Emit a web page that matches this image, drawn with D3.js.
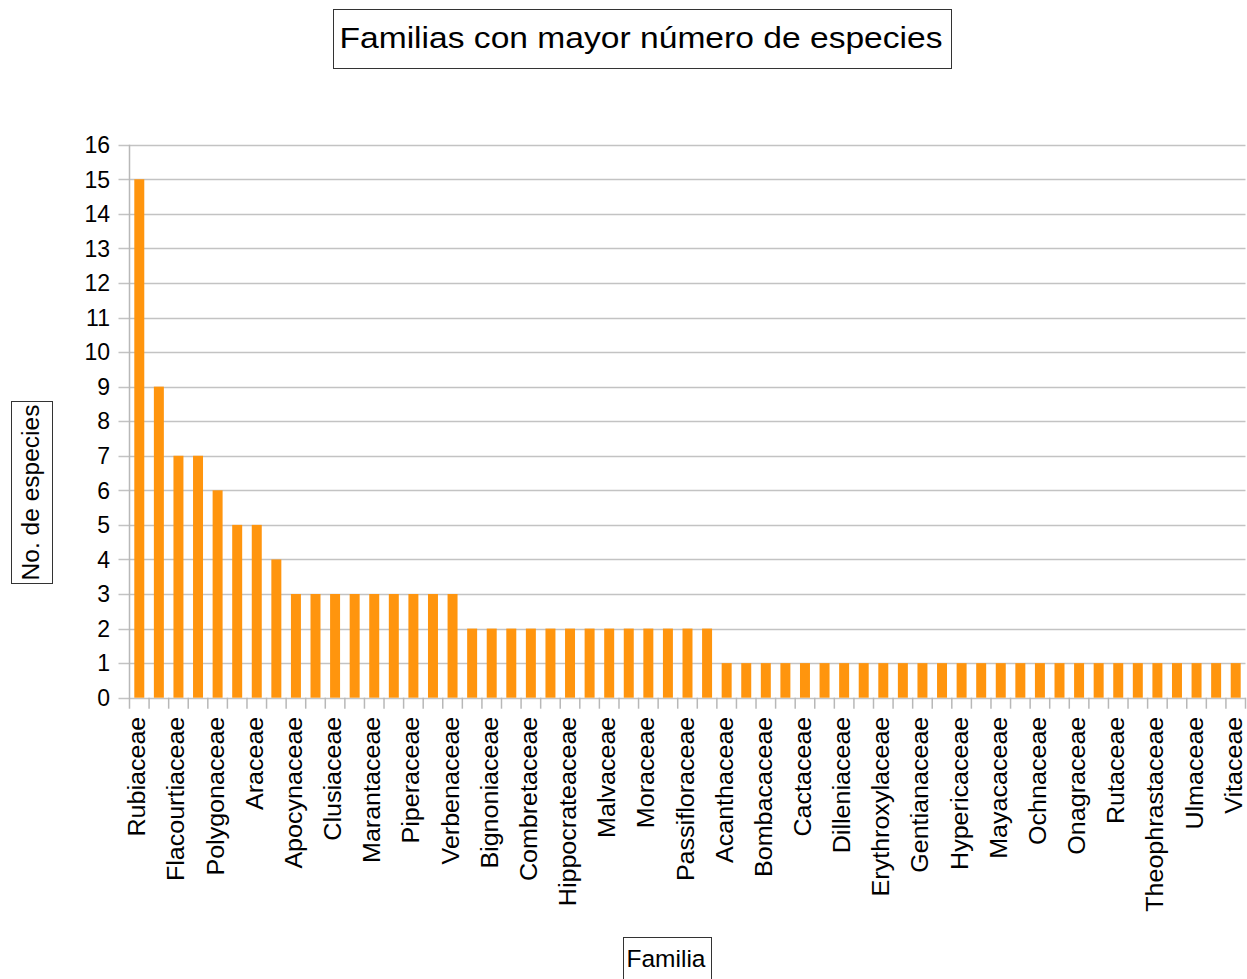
<!DOCTYPE html>
<html>
<head>
<meta charset="utf-8">
<script src="https://cdn.jsdelivr.net/npm/d3@7"></script>
<style>
  html, body { margin: 0; padding: 0; background: #fff; }
  svg { display: block; font-family: "Liberation Sans", Arial, sans-serif; }
</style>
</head>
<body>
<svg id="chart" width="1247" height="979"></svg>
<script>
// Families and their species counts
const families = [
  "Rubiaceae", "Fabaceae", "Flacourtiaceae", "Melastomataceae", "Polygonaceae", "Mimosaceae", "Araceae", "Caesalpiniaceae",
  "Apocynaceae", "Arecaceae", "Clusiaceae", "Lauraceae", "Marantaceae", "Myrtaceae", "Piperaceae", "Sapotaceae", "Verbenaceae",
  "Annonaceae", "Bignoniaceae", "Boraginaceae", "Combretaceae", "Cyperaceae", "Hippocrateaceae", "Lecythidaceae", "Malvaceae",
  "Meliaceae", "Moraceae", "Nyctaginaceae", "Passifloraceae", "Poaceae",
  "Acanthaceae", "Amaranthaceae", "Bombacaceae", "Burseraceae", "Cactaceae", "Chrysobalanaceae", "Dilleniaceae", "Ebenaceae",
  "Erythroxylaceae", "Euphorbiaceae", "Gentianaceae", "Heliconiaceae", "Hypericaceae", "Lamiaceae", "Mayacaceae", "Myrsinaceae",
  "Ochnaceae", "Olacaceae", "Onagraceae", "Polygalaceae", "Rutaceae", "Solanaceae", "Theophrastaceae", "Tiliaceae",
  "Ulmaceae", "Urticaceae", "Vitaceae"
];
const species = [
  15, 9, 7, 7, 6, 5, 5, 4,
  3, 3, 3, 3, 3, 3, 3, 3, 3,
  2, 2, 2, 2, 2, 2, 2, 2, 2, 2, 2, 2, 2,
  1, 1, 1, 1, 1, 1, 1, 1, 1, 1, 1, 1, 1, 1, 1, 1, 1, 1, 1, 1, 1, 1, 1, 1, 1, 1, 1
];
const yTicks = d3.range(0, 17);

const title = "Familias con mayor número de especies";
const yTitle = "No. de especies";
const xTitle = "Familia";

const svg = d3.select("#chart");
const plotLeft = 129.5, plotRight = 1245.5, plotTop = 144.7, plotBottom = 697.7;

const x = d3.scaleBand().domain(families).range([plotLeft, plotRight]).paddingInner(0).paddingOuter(0);
const y = d3.scaleLinear().domain([0, 16]).range([plotBottom, plotTop]);

// Horizontal gridlines, extending left past the axis as tick marks
svg.append("g").selectAll("line").data(yTicks).join("line")
  .attr("x1", plotLeft - 11).attr("x2", plotRight)
  .attr("y1", d => Math.round(y(d)) + 0.5).attr("y2", d => Math.round(y(d)) + 0.5)
  .attr("stroke", "#c3c3c3").attr("stroke-width", 1.3);

// Bars
const barW = x.bandwidth() * 0.51;
svg.append("g").selectAll("rect").data(families).join("rect")
  .attr("x", d => x(d) + (x.bandwidth() - barW) / 2)
  .attr("width", barW)
  .attr("y", (d, i) => y(species[i]))
  .attr("height", (d, i) => y(0) - y(species[i]))
  .attr("fill", "#ff950e");

// Y axis line
svg.append("line")
  .attr("x1", plotLeft).attr("x2", plotLeft)
  .attr("y1", plotTop).attr("y2", plotBottom + 11)
  .attr("stroke", "#b8b8b8").attr("stroke-width", 1.5);

// X tick marks at category boundaries
const boundaries = families.map(d => x(d)).concat([plotRight]);
svg.append("g").selectAll("line").data(boundaries.slice(1)).join("line")
  .attr("x1", d => d).attr("x2", d => d)
  .attr("y1", plotBottom).attr("y2", plotBottom + 11)
  .attr("stroke", "#b8b8b8").attr("stroke-width", 1.5);

// Y tick labels
svg.append("g").selectAll("text").data(yTicks).join("text")
  .attr("x", 110).attr("y", d => y(d))
  .attr("dy", "0.36em")
  .attr("text-anchor", "end")
  .attr("font-size", 23)
  .attr("fill", "#000")
  .text(d => d);

// X tick labels, every other category
svg.append("g").selectAll("text").data(families.filter((d, i) => i % 2 === 0)).join("text")
  .attr("transform", d => `translate(${x(d) + x.bandwidth() / 2 + 6},${plotBottom + 19}) rotate(-90) scale(1.045,1)`)
  .attr("text-anchor", "end")
  .attr("font-size", 24)
  .attr("fill", "#000")
  .text(d => d);

// Title box
const tg = svg.append("g");
tg.append("rect").attr("x", 333.5).attr("y", 9.5).attr("width", 618).attr("height", 59)
  .attr("fill", "#fff").attr("stroke", "#333").attr("stroke-width", 1);
tg.append("text").attr("transform", "translate(641,48) scale(1.12,1)").attr("text-anchor", "middle")
  .attr("font-size", 30).attr("fill", "#000").text(title);

// Y axis title box
const yg = svg.append("g");
yg.append("rect").attr("x", 11.5).attr("y", 401.5).attr("width", 41).attr("height", 182)
  .attr("fill", "#fff").attr("stroke", "#333").attr("stroke-width", 1);
yg.append("text").attr("transform", "translate(38.5,492.5) rotate(-90) scale(1.066,1)")
  .attr("text-anchor", "middle").attr("font-size", 23).attr("fill", "#000").text(yTitle);

// X axis title box
const xg = svg.append("g");
xg.append("rect").attr("x", 623.5).attr("y", 937.5).attr("width", 88).attr("height", 45)
  .attr("fill", "#fff").attr("stroke", "#333").attr("stroke-width", 1);
xg.append("text").attr("x", 666).attr("y", 967).attr("text-anchor", "middle")
  .attr("font-size", 24.5).attr("fill", "#000").text(xTitle);
</script>
</body>
</html>
